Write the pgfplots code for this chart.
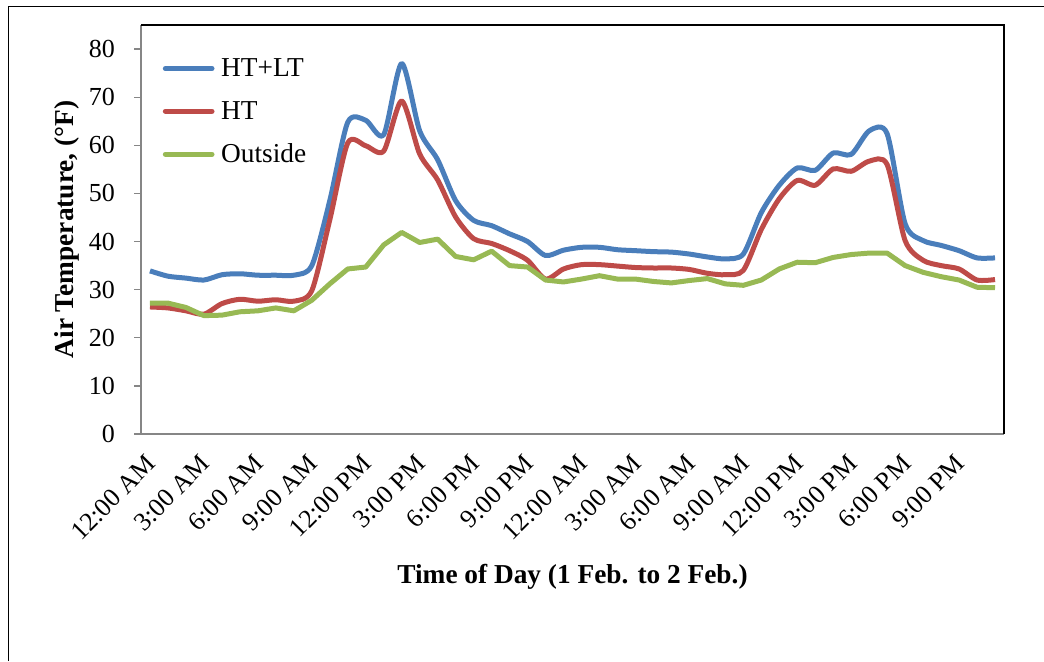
\documentclass[border=0pt]{standalone}
\usepackage{fontspec}
\setmainfont{Liberation Serif}
\usepackage{pgfplots}
\pgfplotsset{compat=1.18}
\usepackage{pgfplotstable}
\definecolor{sblue}{HTML}{4A7EBB}
\definecolor{sred}{HTML}{BE4B48}
\definecolor{sgreen}{HTML}{98B954}
\definecolor{axgray}{HTML}{868686}
\pgfplotstableread{
i blue red green
0 33.9 26.4 27.2
1 32.8 26.2 27.2
2 32.4 25.6 26.3
3 32.0 24.9 24.6
4 33.1 27.1 24.7
5 33.3 28.0 25.4
6 33.0 27.6 25.6
7 33.0 27.9 26.2
8 33.0 27.6 25.6
9 35.0 29.8 27.8
10 48.5 44.5 31.2
11 64.8 60.5 34.3
12 65.2 59.9 34.7
13 62.2 58.8 39.3
14 77.0 69.2 41.9
15 63.0 58.2 39.8
16 57.0 52.8 40.5
17 48.5 45.1 36.9
18 44.4 40.6 36.2
19 43.3 39.6 38.0
20 41.6 38.1 35.0
21 40.0 36.1 34.7
22 37.1 32.2 32.0
23 38.2 34.3 31.6
24 38.8 35.2 32.2
25 38.8 35.2 32.9
26 38.3 34.9 32.2
27 38.1 34.6 32.2
28 37.9 34.5 31.7
29 37.8 34.5 31.4
30 37.4 34.2 31.9
31 36.8 33.4 32.3
32 36.4 33.1 31.2
33 37.4 34.0 30.9
34 46.0 42.5 32.0
35 51.7 48.9 34.3
36 55.3 52.7 35.7
37 54.8 51.7 35.6
38 58.4 55.1 36.7
39 58.1 54.6 37.3
40 63.0 56.7 37.6
41 62.4 56.0 37.6
42 43.7 40.2 35.0
43 40.2 36.1 33.6
44 39.2 35.0 32.7
45 38.1 34.3 32.0
46 36.6 32.0 30.5
47 36.6 32.1 30.4
}\datatable
\begin{document}
\begin{tikzpicture}
\path[use as bounding box] (0,0) rectangle (783pt,495.75pt);
\draw[line width=1.1pt] (6.4pt,0) -- (6.4pt,490.9pt) -- (783pt,490.9pt);
\begin{axis}[
  at={(105.75pt,170.25pt)}, anchor=south west,
  width=647.25pt, height=306.75pt, scale only axis,
  xmin=-0.5, xmax=47.5, ymin=0, ymax=85,
  axis line style={draw=none},
  ytick={0,10,...,80},
  xtick={0,3,...,45},
  xticklabels={12:00 AM,3:00 AM,6:00 AM,9:00 AM,12:00 PM,3:00 PM,6:00 PM,9:00 PM,12:00 AM,3:00 AM,6:00 AM,9:00 AM,12:00 PM,3:00 PM,6:00 PM,9:00 PM},
  major x tick style={draw=none},
  major y tick style={draw=axgray, line width=1pt},
  tick align=outside, major tick length=5pt,
  ytick pos=left,
  /pgf/number format/assume math mode=true,
  yticklabel style={font=\fontsize{19.5}{23}\selectfont, xshift=-11pt},
  xticklabel style={font=\fontsize{19.5}{23}\selectfont, xshift=-3.75pt, yshift=-4.5pt, rotate=45, anchor=north east},
  xlabel={\textbf{Time of Day (1 Feb. to 2 Feb.)}},
  ylabel={\textbf{Air Temperature, (°F)}},
  xlabel style={font=\fontsize{20.5}{24}\selectfont, at={(axis description cs:0.5,-0.35)}, anchor=center},
  ylabel style={font=\fontsize{20.5}{24}\selectfont, at={(axis description cs:-0.0861,0.5)}, anchor=center},
  legend style={draw=none, fill=none, at={(axis description cs:0.025,0.925)}, anchor=north west,
    font=\fontsize{20.5}{24}\selectfont, row sep=13pt, column sep=3pt, inner sep=0pt,
    nodes={inner sep=2pt}},
  legend cell align=left,
  legend image code/.code={\draw[#1, line cap=round] (0pt,0pt) -- (35pt,0pt);},
  clip=false,
]
\addplot[sblue, line width=3.75pt, smooth, tension=0.45, line join=round] table[x=i, y=blue] {\datatable};
\addlegendentry{HT+LT}
\addplot[sred, line width=3.75pt, smooth, tension=0.45, line join=round] table[x=i, y=red] {\datatable};
\addlegendentry{HT}
\addplot[sgreen, line width=3.75pt, line join=round] table[x=i, y=green] {\datatable};
\addlegendentry{Outside}
\draw[axgray, line width=1.3pt] (rel axis cs:0,1) -- (rel axis cs:0,0) -- (rel axis cs:1,0);
\draw[black, line width=1.3pt] (rel axis cs:0,1) -- (rel axis cs:1,1) -- (rel axis cs:1,0);
\end{axis}
\end{tikzpicture}
\end{document}
